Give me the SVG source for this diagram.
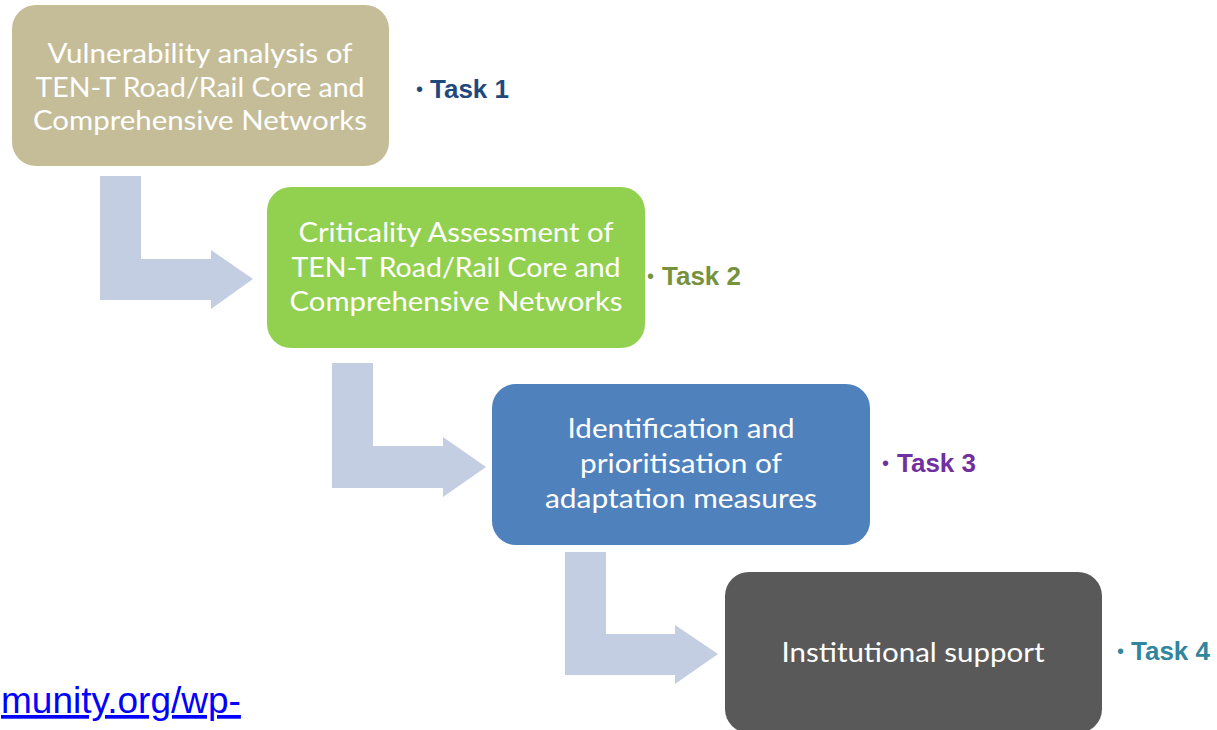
<svg xmlns="http://www.w3.org/2000/svg" width="1217" height="730" viewBox="0 0 1217 730">
<style>
.box{stroke:none}
.bt{font-family:Lato,"Open Sans","Liberation Sans",sans-serif;font-size:27px;fill:#ffffff;text-anchor:middle}
.task{font-family:"Liberation Sans",Arial,sans-serif;font-size:26px;font-weight:bold}
.bul{font-size:20px;font-weight:normal}
.arr{fill:#C3CEE2}
.link{font-family:"Liberation Sans",Arial,sans-serif;font-size:37px;fill:#0000FF;text-decoration:underline}
</style>
<rect width="1217" height="730" fill="#ffffff"/>
<g id="connectors">
<path class="arr" d="M100,176 H141 V259 H211 V250 L253,279 L211,309 V300 H100 Z"/>
<path class="arr" d="M332,363 H373 V446 H443 V437 L486,467 L443,497 V488 H332 Z"/>
<path class="arr" d="M565,552 H606 V634 H675 V625 L718,654 L675,684 V675 H565 Z"/>
</g>
<g id="node1">
<rect class="box" x="12" y="5" width="377" height="161" rx="24" fill="#C4BD97"/>
<text class="bt" x="200" y="63" textLength="305" lengthAdjust="spacingAndGlyphs">Vulnerability analysis of</text>
<text class="bt" x="200" y="97" textLength="329" lengthAdjust="spacingAndGlyphs">TEN-T Road/Rail Core and</text>
<text class="bt" x="200" y="130" textLength="334" lengthAdjust="spacingAndGlyphs">Comprehensive Networks</text>
</g>
<g id="node2">
<rect class="box" x="267" y="187" width="378" height="161" rx="24" fill="#92D050"/>
<text class="bt" x="456" y="242" textLength="315" lengthAdjust="spacingAndGlyphs">Criticality Assessment of</text>
<text class="bt" x="456" y="277" textLength="329" lengthAdjust="spacingAndGlyphs">TEN-T Road/Rail Core and</text>
<text class="bt" x="456" y="311" textLength="333" lengthAdjust="spacingAndGlyphs">Comprehensive Networks</text>
</g>
<g id="node3">
<rect class="box" x="492" y="384" width="378" height="161" rx="24" fill="#4F81BD"/>
<text class="bt" x="681" y="438" textLength="227" lengthAdjust="spacingAndGlyphs">Identification and</text>
<text class="bt" x="681" y="473" textLength="202" lengthAdjust="spacingAndGlyphs">prioritisation of</text>
<text class="bt" x="681" y="508" textLength="272" lengthAdjust="spacingAndGlyphs">adaptation measures</text>
</g>
<g id="node4">
<rect class="box" x="725" y="572" width="377" height="161" rx="24" fill="#595959"/>
<text class="bt" x="913" y="662" textLength="263" lengthAdjust="spacingAndGlyphs">Institutional support</text>
</g>
<g id="task1"><text class="task" fill="#1F497D" x="416" y="98"><tspan class="bul" dy="-2">•</tspan><tspan x="430" dy="2">Task 1</tspan></text></g>
<g id="task2"><text class="task" fill="#76923C" x="647" y="285"><tspan class="bul" dy="-2">•</tspan><tspan x="662" dy="2">Task 2</tspan></text></g>
<g id="task3"><text class="task" fill="#7030A0" x="882" y="472"><tspan class="bul" dy="-2">•</tspan><tspan x="897" dy="2">Task 3</tspan></text></g>
<g id="task4"><text class="task" fill="#31859C" x="1117" y="660"><tspan class="bul" dy="-2">•</tspan><tspan x="1131" dy="2">Task 4</tspan></text></g>
<text class="link" x="1" y="713">munity.org/wp-</text>
</svg>
